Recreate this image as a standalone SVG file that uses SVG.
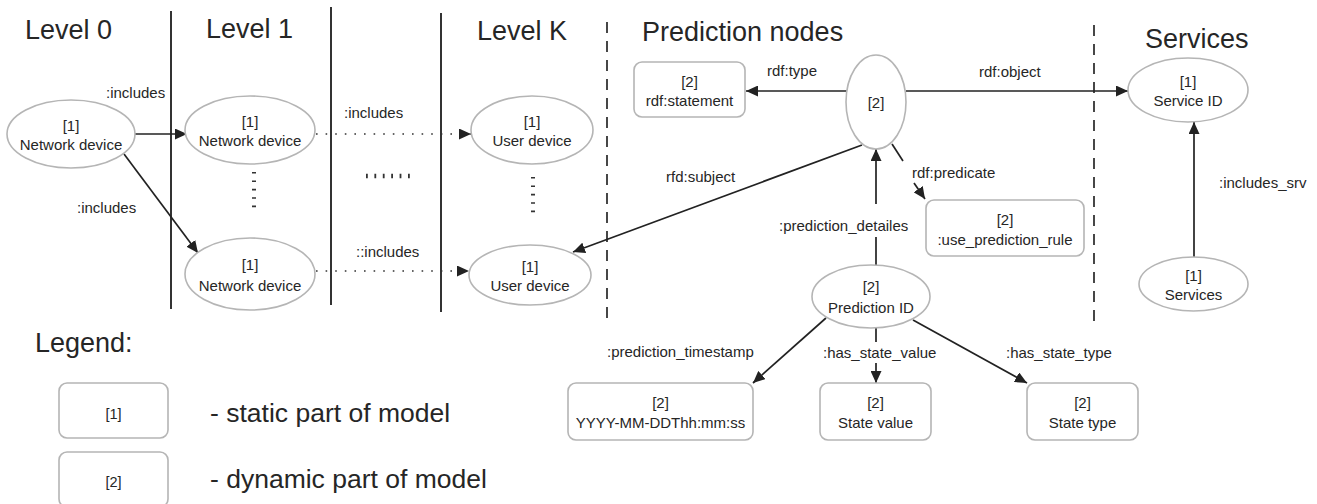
<svg xmlns="http://www.w3.org/2000/svg" width="1317" height="504" viewBox="0 0 1317 504">
  <defs>
    <style>
      text { font-family: "Liberation Sans", Arial, sans-serif; fill: #262626; }
      .title { font-size: 27px; }
      .legend { font-size: 26.5px; }
      .lbl { font-size: 15px; }
      .nt { font-size: 15px; text-anchor: middle; }
      .small { font-size: 14.5px; text-anchor: middle; }
      .node { fill: #ffffff; stroke: #b5b5b5; stroke-width: 1.6; }
      .edge { fill: none; stroke: #222222; stroke-width: 1.7; }
      .dotted { fill: none; stroke: #333333; stroke-width: 1.6; stroke-dasharray: 1.6 8; }
      .level { stroke: #333333; stroke-width: 2; }
      .dash { stroke: #333333; stroke-width: 1.8; stroke-dasharray: 11 8; }
      .dots-v { stroke: #333333; stroke-width: 4; stroke-dasharray: 1.6 6.8; }
      .dots-h { stroke: #333333; stroke-width: 4.5; stroke-dasharray: 1.8 6.6; }
    </style>
    <marker id="arrow" markerWidth="12" markerHeight="11" refX="12" refY="5.5" orient="auto" markerUnits="userSpaceOnUse">
      <path d="M0,0 L12,5.5 L0,11 z" fill="#222222"/>
    </marker>
  </defs>

  <!-- column separators -->
  <g id="separators">
    <line class="level" x1="171" y1="11" x2="171" y2="309"/>
    <line class="level" x1="331" y1="7" x2="331" y2="305"/>
    <line class="level" x1="441" y1="13" x2="441" y2="312"/>
    <line class="dash" x1="607" y1="22" x2="607" y2="318"/>
    <line class="dash" x1="1094" y1="25" x2="1094" y2="321"/>
  </g>

  <!-- column titles -->
  <g id="titles">
    <text class="title" x="25" y="39">Level 0</text>
    <text class="title" x="206" y="38">Level 1</text>
    <text class="title" x="477" y="40">Level K</text>
    <text class="title" x="642" y="41">Prediction nodes</text>
    <text class="title" x="1145" y="48">Services</text>
  </g>

  <!-- elision marks -->
  <g id="ellipsis">
    <line class="dots-v" x1="254" y1="172" x2="254" y2="209"/>
    <line class="dots-v" x1="533" y1="177" x2="533" y2="213"/>
    <line class="dots-h" x1="366" y1="176" x2="411" y2="176"/>
  </g>

  <!-- connectors -->
  <g id="connectors">
    <line class="edge" x1="135" y1="134" x2="187" y2="134" marker-end="url(#arrow)"/>
    <line class="edge" x1="124" y1="154" x2="198" y2="253" marker-end="url(#arrow)"/>
    <line class="dotted" x1="316" y1="134" x2="471" y2="134" marker-end="url(#arrow)"/>
    <line class="dotted" x1="316" y1="271" x2="469" y2="271" marker-end="url(#arrow)"/>
    <line class="edge" x1="847" y1="91" x2="746" y2="91" marker-end="url(#arrow)"/>
    <line class="edge" x1="906" y1="91" x2="1128" y2="91" marker-end="url(#arrow)"/>
    <line class="edge" x1="862" y1="145" x2="573" y2="252" marker-end="url(#arrow)"/>
    <line class="edge" x1="892" y1="144" x2="903" y2="161"/>
    <line class="edge" x1="914" y1="183" x2="925" y2="199" marker-end="url(#arrow)"/>
    <line class="edge" x1="876" y1="265" x2="876" y2="237"/>
    <line class="edge" x1="876" y1="204" x2="876" y2="149" marker-end="url(#arrow)"/>
    <line class="edge" x1="826" y1="318" x2="753" y2="383" marker-end="url(#arrow)"/>
    <line class="edge" x1="876" y1="328" x2="876" y2="342"/>
    <line class="edge" x1="876" y1="363" x2="876" y2="383" marker-end="url(#arrow)"/>
    <line class="edge" x1="913" y1="320" x2="1027" y2="383" marker-end="url(#arrow)"/>
    <line class="edge" x1="1194" y1="257" x2="1194" y2="122" marker-end="url(#arrow)"/>

    <text class="lbl" x="106" y="98">:includes</text>
    <text class="lbl" x="77" y="213">:includes</text>
    <text class="lbl" x="344" y="118">:includes</text>
    <text class="lbl" x="356" y="257">::includes</text>
    <text class="lbl" x="767" y="76">rdf:type</text>
    <text class="lbl" x="979" y="77">rdf:object</text>
    <text class="lbl" x="666" y="182">rfd:subject</text>
    <text class="lbl" x="912" y="178">rdf:predicate</text>
    <text class="lbl" x="779" y="231">:prediction_detailes</text>
    <text class="lbl" x="607" y="357">:prediction_timestamp</text>
    <text class="lbl" x="823" y="358">:has_state_value</text>
    <text class="lbl" x="1006" y="358">:has_state_type</text>
    <text class="lbl" x="1219" y="188">:includes_srv</text>
  </g>

  <!-- Level 0 -->
  <g id="net-device-0">
    <ellipse class="node" cx="71" cy="134" rx="64" ry="34"/>
    <text class="nt" x="71" y="131">[1]</text>
    <text class="nt" x="71" y="150">Network device</text>
  </g>

  <!-- Level 1 -->
  <g id="net-device-1a">
    <ellipse class="node" cx="250" cy="130" rx="65" ry="34"/>
    <text class="nt" x="250" y="127">[1]</text>
    <text class="nt" x="250" y="146">Network device</text>
  </g>
  <g id="net-device-1b">
    <ellipse class="node" cx="250" cy="274" rx="65" ry="36"/>
    <text class="nt" x="250" y="270">[1]</text>
    <text class="nt" x="250" y="291">Network device</text>
  </g>

  <!-- Level K -->
  <g id="user-device-a">
    <ellipse class="node" cx="532" cy="130" rx="61" ry="34"/>
    <text class="nt" x="532" y="127">[1]</text>
    <text class="nt" x="532" y="146">User device</text>
  </g>
  <g id="user-device-b">
    <ellipse class="node" cx="530" cy="275" rx="61" ry="30"/>
    <text class="nt" x="530" y="272">[1]</text>
    <text class="nt" x="530" y="291">User device</text>
  </g>

  <!-- Prediction nodes -->
  <g id="statement">
    <ellipse class="node" cx="876" cy="102" rx="30" ry="47"/>
    <text class="nt" x="876" y="108">[2]</text>
  </g>
  <g id="rdf-statement">
    <rect class="node" x="634" y="62" width="111" height="55" rx="8"/>
    <text class="nt" x="689.5" y="87">[2]</text>
    <text class="nt" x="689.5" y="106">rdf:statement</text>
  </g>
  <g id="prediction-rule">
    <rect class="node" x="926" y="200" width="158" height="56" rx="8"/>
    <text class="nt" x="1005" y="225">[2]</text>
    <text class="nt" x="1005" y="245">:use_prediction_rule</text>
  </g>
  <g id="prediction-id">
    <ellipse class="node" cx="871" cy="296.5" rx="59" ry="31.5"/>
    <text class="nt" x="871" y="292">[2]</text>
    <text class="nt" x="871" y="313">Prediction ID</text>
  </g>
  <g id="timestamp">
    <rect class="node" x="568" y="383" width="185" height="57" rx="8"/>
    <text class="nt" x="660.5" y="408">[2]</text>
    <text class="nt" x="660.5" y="428">YYYY-MM-DDThh:mm:ss</text>
  </g>
  <g id="state-value">
    <rect class="node" x="820" y="383" width="111" height="57" rx="8"/>
    <text class="nt" x="875.5" y="408">[2]</text>
    <text class="nt" x="875.5" y="428">State value</text>
  </g>
  <g id="state-type">
    <rect class="node" x="1027" y="383" width="111" height="57" rx="8"/>
    <text class="nt" x="1082.5" y="408">[2]</text>
    <text class="nt" x="1082.5" y="428">State type</text>
  </g>

  <!-- Services -->
  <g id="service-id">
    <ellipse class="node" cx="1188" cy="90" rx="60" ry="32"/>
    <text class="nt" x="1188" y="87">[1]</text>
    <text class="nt" x="1188" y="106">Service ID</text>
  </g>
  <g id="services">
    <ellipse class="node" cx="1193.5" cy="284" rx="54.5" ry="27"/>
    <text class="nt" x="1193.5" y="281">[1]</text>
    <text class="nt" x="1193.5" y="300">Services</text>
  </g>

  <!-- Legend -->
  <g id="legend">
    <text class="title" x="35" y="352">Legend:</text>
    <rect class="node" x="59" y="383" width="109" height="55" rx="8"/>
    <text class="small" x="113.5" y="419">[1]</text>
    <text class="legend" x="210" y="422">- static part of model</text>
    <rect class="node" x="59" y="452" width="109" height="55" rx="8"/>
    <text class="small" x="113.5" y="487">[2]</text>
    <text class="legend" x="210" y="488">- dynamic part of model</text>
  </g>
</svg>
